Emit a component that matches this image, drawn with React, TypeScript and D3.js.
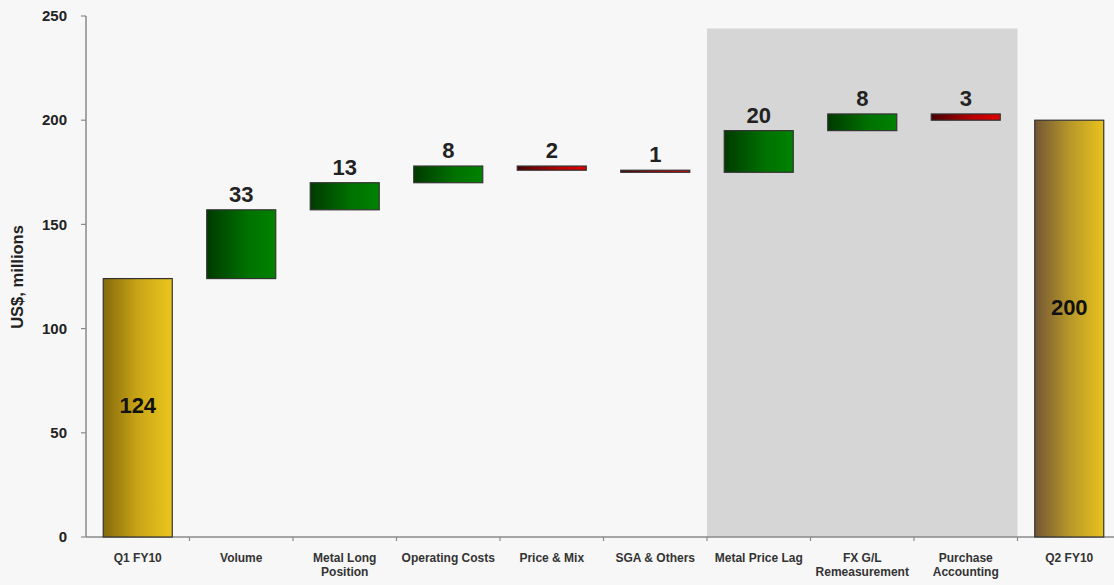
import React from "react";
import * as d3 from "d3";

const categories = [
  ["Q1 FY10"],
  ["Volume"],
  ["Metal Long", "Position"],
  ["Operating Costs"],
  ["Price & Mix"],
  ["SGA & Others"],
  ["Metal Price Lag"],
  ["FX G/L", "Remeasurement"],
  ["Purchase", "Accounting"],
  ["Q2 FY10"],
];
const kinds = ["total", "delta", "delta", "delta", "delta", "delta", "delta", "delta", "delta", "total"];
const deltas = [124, 33, 13, 8, -2, -1, 20, 8, -3, 200];
const labels = ["124", "33", "13", "8", "2", "1", "20", "8", "3", "200"];
const totalLabelAt = [63, 110];
const yTicks = [0, 50, 100, 150, 200, 250];
const shadeFrom = 6;
const shadeTo = 8;
const shadeTop = 244;

const W = 1114;
const H = 585;
const left = 86;
const bottom = 537;
const top = 16;

export default function App() {
  const keys = categories.map((c) => c.join(" "));
  const x = d3
    .scaleBand<string>()
    .domain(keys)
    .range([left, left + 10 * 103.5])
    .paddingInner(1 / 3)
    .paddingOuter(1 / 6);
  const y = d3.scaleLinear().domain([0, 250]).range([bottom, top]);
  const step = x.step();
  const start = (i: number) => (x(keys[i]) as number) - x.bandwidth() * 0.25;

  let run = 0;
  const bars = deltas.map((d, i) => {
    if (kinds[i] === "total") {
      run = d;
      return { y0: 0, y1: d, kind: "total", i };
    }
    const y0 = run;
    run += d;
    return { y0, y1: run, kind: d >= 0 ? "up" : "down", i };
  });

  let totalIdx = 0;
  return (
    <svg
      width={W}
      height={H}
      style={{ position: "absolute", left: 0, top: 0, background: "#f7f7f7" }}
      fontFamily="Arial, 'Liberation Sans', sans-serif"
    >
      <defs>
        <linearGradient id="gold1" x1="0" x2="1" y1="0" y2="0">
          <stop offset="0" stopColor="#86690c" />
          <stop offset="0.5" stopColor="#c9a517" />
          <stop offset="1" stopColor="#ebc61e" />
        </linearGradient>
        <linearGradient id="gold2" x1="0" x2="1" y1="0" y2="0">
          <stop offset="0" stopColor="#735634" />
          <stop offset="0.5" stopColor="#b6972a" />
          <stop offset="1" stopColor="#e9c21c" />
        </linearGradient>
        <linearGradient id="green" x1="0" x2="1" y1="0" y2="0">
          <stop offset="0" stopColor="#003a00" />
          <stop offset="0.6" stopColor="#007200" />
          <stop offset="1" stopColor="#008200" />
        </linearGradient>
        <linearGradient id="red" x1="0" x2="1" y1="0" y2="0">
          <stop offset="0" stopColor="#4a0000" />
          <stop offset="0.6" stopColor="#b80000" />
          <stop offset="1" stopColor="#e00000" />
        </linearGradient>
      </defs>
      <rect x={0} y={0} width={W} height={H} fill="#f7f7f7" />
      <rect
        x={start(shadeFrom)}
        y={y(shadeTop)}
        width={start(shadeTo) + step - start(shadeFrom)}
        height={bottom - y(shadeTop)}
        fill="#d6d6d6"
      />
      {/* axes */}
      <line x1={left} x2={W} y1={bottom} y2={bottom} stroke="#8a8a8a" strokeWidth={1.5} />
      <line x1={left} x2={left} y1={top} y2={bottom} stroke="#8a8a8a" strokeWidth={1.5} />
      {yTicks.map((t) => (
        <g key={t}>
          <line x1={left - 5} x2={left} y1={y(t)} y2={y(t)} stroke="#8a8a8a" strokeWidth={1.2} />
          <text
            x={67}
            y={y(t)}
            dy="0.35em"
            textAnchor="end"
            fontSize={15}
            fontWeight="bold"
            fill="#222"
          >
            {t}
          </text>
        </g>
      ))}
      {keys.map((k, i) =>
        i === 0 ? null : (
          <line
            key={k}
            x1={start(i)}
            x2={start(i)}
            y1={bottom}
            y2={bottom + 4}
            stroke="#8a8a8a"
            strokeWidth={1.2}
          />
        )
      )}
      <text
        transform={`translate(23, 277) rotate(-90)`}
        textAnchor="middle"
        fontSize={16.5}
        fontWeight="bold"
        fill="#222"
      >
        US$, millions
      </text>
      {/* bars */}
      {bars.map((b) => {
        const lo = Math.min(b.y0, b.y1);
        const hi = Math.max(b.y0, b.y1);
        const fill =
          b.kind === "total"
            ? b.i === 0
              ? "url(#gold1)"
              : "url(#gold2)"
            : b.kind === "up"
            ? "url(#green)"
            : "url(#red)";
        return (
          <rect
            key={b.i}
            x={x(keys[b.i])}
            y={y(hi)}
            width={x.bandwidth()}
            height={Math.max(y(lo) - y(hi), 1)}
            fill={fill}
            stroke="#333"
            strokeWidth={1.2}
          />
        );
      })}
      {/* value labels */}
      {bars.map((b) => {
        const cx = (x(keys[b.i]) as number) + x.bandwidth() / 2;
        if (b.kind === "total") {
          const ly = y(totalLabelAt[totalIdx++]);
          return (
            <text
              key={b.i}
              x={cx}
              y={ly}
              dy="0.35em"
              textAnchor="middle"
              fontSize={22}
              fontWeight="bold"
              fill="#111"
            >
              {labels[b.i]}
            </text>
          );
        }
        const hi = Math.max(b.y0, b.y1);
        return (
          <text
            key={b.i}
            x={cx}
            y={y(hi) - 8}
            textAnchor="middle"
            fontSize={22}
            fontWeight="bold"
            fill="#222"
          >
            {labels[b.i]}
          </text>
        );
      })}
      {/* category labels */}
      {categories.map((lines, i) => {
        const cx = (x(keys[i]) as number) + x.bandwidth() / 2;
        return (
          <text
            key={i}
            x={cx}
            y={562}
            textAnchor="middle"
            fontSize={12}
            fontWeight="bold"
            fill="#333"
          >
            {lines.map((l, j) => (
              <tspan key={j} x={cx} dy={j === 0 ? 0 : 14}>
                {l}
              </tspan>
            ))}
          </text>
        );
      })}
    </svg>
  );
}
